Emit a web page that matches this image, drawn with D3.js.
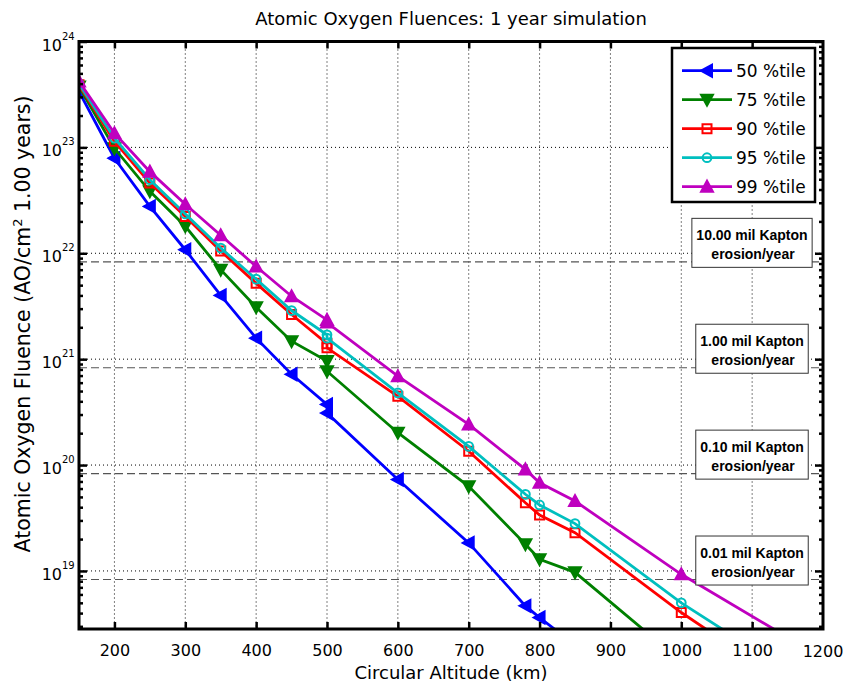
<!DOCTYPE html>
<html>
<head>
<meta charset="utf-8">
<script src="https://cdn.jsdelivr.net/npm/d3@7"></script>
<style>
body { margin: 0; background: #fff; }
text { font-family: "DejaVu Sans", Helvetica, sans-serif; }
text.box { font-family: "Liberation Sans", Arial, sans-serif; }
</style>
</head>
<body>
<div id="chart"></div>
<script>
// altitude (km); 500 appears twice in the source data
var altitudes = [150, 200, 250, 300, 350, 400, 450, 500, 500, 600, 700, 780, 800, 850, 1000, 1200];

// fluence (AO/cm^2, 1 year) per percentile
var p50 = [3.37e23, 7.9e22, 2.77e22, 1.08e22, 4.0e21, 1.58e21, 7.2e20, 3.74e20, 3.1e20, 7.3e19, 1.84e19, 4.68e18, 3.63e18, 2.0e18, null, null];
var p75 = [3.76e23, 9.8e22, 3.85e22, 1.8e22, 7.0e21, 3.1e21, 1.48e21, 9.6e20, 7.7e20, 2.02e20, 6.3e19, 1.79e19, 1.29e19, 9.7e18, 1.4e18, null];
var p90 = [3.9e23, 1.14e23, 4.6e22, 2.23e22, 1.05e22, 5.2e21, 2.64e21, 1.4e21, 1.28e21, 4.46e20, 1.35e20, 4.4e19, 3.37e19, 2.3e19, 4.05e18, 5.1e17];
var p95 = [4.0e23, 1.22e23, 4.95e22, 2.35e22, 1.12e22, 5.7e21, 2.88e21, 1.7e21, 1.58e21, 4.8e20, 1.5e20, 5.3e19, 4.2e19, 2.8e19, 5.0e18, 6.9e17];
var p99 = [4.2e23, 1.36e23, 5.9e22, 2.9e22, 1.48e22, 7.5e21, 3.93e21, 2.35e21, 2.22e21, 6.9e20, 2.42e20, 9.1e19, 6.8e19, 4.57e19, 9.3e18, 1.5e18];

var seriesNames = ["50 %tile", "75 %tile", "90 %tile", "95 %tile", "99 %tile"];
var seriesColors = ["#0000ff", "#008000", "#ff0000", "#00bfbf", "#bf00bf"];
var seriesMarkers = ["left", "down", "square", "circle", "up"];

// kapton erosion reference levels
var kaptonFluence = [8.3e21, 8.3e20, 8.3e19, 8.3e18];
var kaptonLabels = ["10.00 mil Kapton", "1.00 mil Kapton", "0.10 mil Kapton", "0.01 mil Kapton"];

var xTicks = [200, 300, 400, 500, 600, 700, 800, 900, 1000, 1100, 1200];
var yDecades = [19, 20, 21, 22, 23, 24];

var W = 847, H = 689;
var pL = 79, pR = 823, pT = 41.5, pB = 629;

var svg = d3.select("#chart").append("svg")
    .attr("width", W).attr("height", H);

var x = d3.scaleLinear().domain([150, 1200]).range([pL, pR]);
var y = d3.scaleLog().domain([2.83e18, 1e24]).range([pB, pT]);

var majorY = yDecades.map(function(e){ return Math.pow(10, e); });
var minorY = [];
for (var e = 18; e < 24; e++) {
    for (var m = 2; m <= 9; m++) {
        var v = m * Math.pow(10, e);
        if (v >= y.domain()[0] && v <= y.domain()[1]) minorY.push(v);
    }
}

svg.append("defs").append("clipPath").attr("id", "plotclip")
    .append("rect").attr("x", pL).attr("y", pT)
    .attr("width", pR - pL).attr("height", pB - pT);

// grid
var grid = svg.append("g");
grid.selectAll("line.gx").data(xTicks.slice(0, -1)).enter().append("line")
    .attr("x1", function(d){ return x(d); }).attr("x2", function(d){ return x(d); })
    .attr("y1", pT).attr("y2", pB)
    .attr("stroke", "#000").attr("stroke-width", 1).attr("stroke-dasharray", "1,3");
grid.selectAll("line.gy").data(majorY.slice(0, -1)).enter().append("line")
    .attr("y1", function(d){ return y(d); }).attr("y2", function(d){ return y(d); })
    .attr("x1", pL).attr("x2", pR)
    .attr("stroke", "#000").attr("stroke-width", 1).attr("stroke-dasharray", "1,3");

// kapton dashed lines
svg.selectAll("line.kap").data(kaptonFluence).enter().append("line")
    .attr("x1", pL).attr("x2", pR)
    .attr("y1", function(d){ return y(d); }).attr("y2", function(d){ return y(d); })
    .attr("stroke", "#555").attr("stroke-width", 1.2).attr("stroke-dasharray", "8,4");

// series
var plot = svg.append("g").attr("clip-path", "url(#plotclip)");
var allSeries = [p50, p75, p90, p95, p99];

function markerPath(type) {
    if (type == "left") return "M-6,0L5,-6L5,6Z";
    if (type == "down") return "M-6,-5L6,-5L0,6Z";
    if (type == "up") return "M-6,5L6,5L0,-6Z";
    if (type == "square") return "M-4.5,-4.5H4.5V4.5H-4.5Z";
    return d3.symbol().type(d3.symbolCircle).size(60)();
}
function isFilled(type) {
    return type == "left" || type == "down" || type == "up";
}

var line = d3.line()
    .defined(function(d){ return d[1] != null; })
    .x(function(d){ return x(d[0]); })
    .y(function(d){ return y(d[1]); });

allSeries.forEach(function(vals, i){
    var pts = altitudes.map(function(a, j){ return [a, vals[j]]; });
    plot.append("path")
        .attr("d", line(pts))
        .attr("fill", "none")
        .attr("stroke", seriesColors[i])
        .attr("stroke-width", 2.8);
    plot.selectAll("path.m" + i)
        .data(pts.filter(function(d){ return d[1] != null; }))
        .enter().append("path")
        .attr("class", "m" + i)
        .attr("transform", function(d){ return "translate(" + x(d[0]) + "," + y(d[1]) + ")"; })
        .attr("d", markerPath(seriesMarkers[i]))
        .attr("fill", isFilled(seriesMarkers[i]) ? seriesColors[i] : "none")
        .attr("stroke", seriesColors[i])
        .attr("stroke-width", 2);
});

// kapton labels
kaptonFluence.forEach(function(f, i){
    var yd = y(f);
    var g = svg.append("g");
    var t1 = g.append("text").attr("class", "box").attr("x", 752).attr("y", yd - 22)
        .attr("text-anchor", "middle").attr("font-size", 14).attr("font-weight", "bold")
        .text(kaptonLabels[i]);
    var t2 = g.append("text").attr("class", "box").attr("x", 753).attr("y", yd - 2.5)
        .attr("text-anchor", "middle").attr("font-size", 14).attr("font-weight", "bold")
        .text("erosion/year");
    var w = Math.max(t1.node().getComputedTextLength(), t2.node().getComputedTextLength()) + 9;
    g.insert("rect", "text")
        .attr("x", 752 - w / 2).attr("y", yd - 43.5)
        .attr("width", w).attr("height", 49)
        .attr("fill", "#fff").attr("stroke", "#333").attr("stroke-width", 1);
});

// axes
var xAxisB = d3.axisBottom(x).tickValues(xTicks.slice(0, -1)).tickSize(-7).tickPadding(16)
    .tickFormat(d3.format("d"));
var gx = svg.append("g").attr("transform", "translate(0," + pB + ")").call(xAxisB);
gx.selectAll("text").attr("font-size", 16).attr("font-family", null).attr("fill", "#000");
svg.append("g").attr("transform", "translate(0," + pT + ")")
    .call(d3.axisTop(x).tickValues(xTicks.slice(0, -1)).tickSize(-7).tickFormat(""));
// 1200 label at right edge
svg.append("text").attr("x", x(1200)).attr("y", 657).attr("text-anchor", "middle")
    .attr("font-size", 16).text("1200");

var yTickVals = majorY.concat(minorY);
var gyL = svg.append("g").attr("transform", "translate(" + pL + ",0)")
    .call(d3.axisLeft(y).tickValues(yTickVals).tickSize(-4).tickFormat(""));
var gyR = svg.append("g").attr("transform", "translate(" + pR + ",0)")
    .call(d3.axisRight(y).tickValues(yTickVals).tickSize(-4).tickFormat(""));
[gyL, gyR].forEach(function(g, k){
    g.selectAll(".tick line")
        .filter(function(d){ return majorY.indexOf(d) >= 0; })
        .attr("x2", k == 0 ? 8 : -8);
});
svg.selectAll(".domain").remove();
svg.selectAll(".tick line").attr("stroke", "#000").attr("stroke-width", 2.5);

// y tick labels 10^n
yDecades.forEach(function(e){
    var yy = y(Math.pow(10, e));
    svg.append("text").attr("x", 62).attr("y", yy + 9).attr("text-anchor", "end")
        .attr("font-size", 16).text("10");
    svg.append("text").attr("x", 62).attr("y", yy - 2).attr("text-anchor", "start")
        .attr("font-size", 10).text(e);
});

// frame
svg.append("rect").attr("x", pL).attr("y", pT)
    .attr("width", pR - pL).attr("height", pB - pT)
    .attr("fill", "none").attr("stroke", "#000").attr("stroke-width", 3);

// legend
var lg = svg.append("g");
lg.append("rect").attr("x", 672).attr("y", 48).attr("width", 143).attr("height", 154)
    .attr("fill", "#fff").attr("stroke", "#000").attr("stroke-width", 2.5);
seriesNames.forEach(function(name, i){
    var ly = 70.7 + i * 29;
    lg.append("line").attr("x1", 682).attr("x2", 732).attr("y1", ly).attr("y2", ly)
        .attr("stroke", seriesColors[i]).attr("stroke-width", 2.8);
    lg.append("path").attr("transform", "translate(707," + ly + ")")
        .attr("d", markerPath(seriesMarkers[i]))
        .attr("fill", isFilled(seriesMarkers[i]) ? seriesColors[i] : "none")
        .attr("stroke", seriesColors[i]).attr("stroke-width", 2);
    lg.append("text").attr("x", 736).attr("y", ly + 6.5).attr("font-size", 17).text(name);
});

// titles
svg.append("text").attr("x", (pL + pR) / 2).attr("y", 25).attr("text-anchor", "middle")
    .attr("font-size", 18).text("Atomic Oxygen Fluences: 1 year simulation");
svg.append("text").attr("x", (pL + pR) / 2).attr("y", 679).attr("text-anchor", "middle")
    .attr("font-size", 18).text("Circular Altitude (km)");
var yl = svg.append("text").attr("transform", "translate(30,324) rotate(-90)")
    .attr("text-anchor", "middle").attr("font-size", 20.5);
yl.append("tspan").text("Atomic Oxygen Fluence (AO/cm");
yl.append("tspan").attr("dy", -8).attr("font-size", 13).text("2");
yl.append("tspan").attr("dy", 8).text(" 1.00 years)");
</script>
</body>
</html>
